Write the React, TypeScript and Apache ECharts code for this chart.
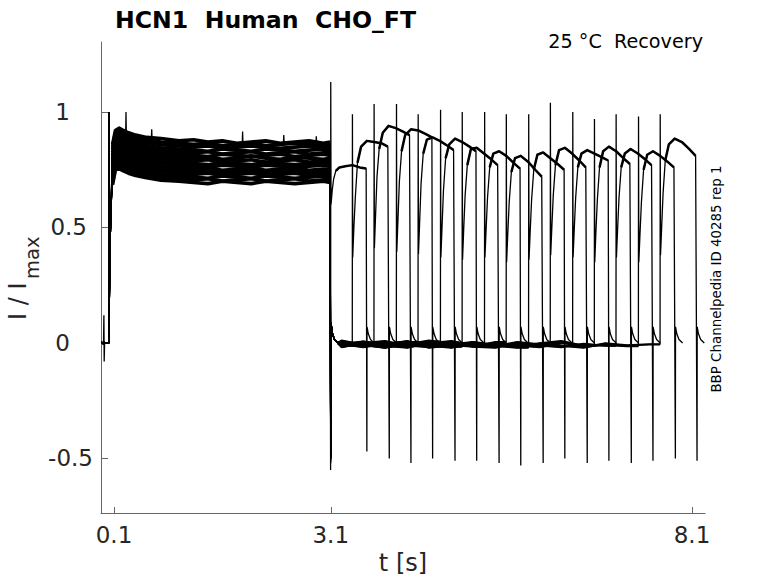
import React, { useEffect, useRef } from "react";
import * as echarts from "echarts";

// ---- axis ticks ----
const xTicks = [0.1, 3.1, 8.1];
const yTicks = [-0.5, 0, 0.5, 1];

// ---- holding segment before the first step ----
const preT = [-0.075, -0.045, -0.04, -0.036, -0.03, 0.029];
const preV0 = [0.0, 0.004, 0.12, -0.08, 0.0, 0.0];
const preV = [0.004, -0.004, 0.006, -0.006, 0.002, 0.0];

// ---- onset of the first (activating) step ----
const riseT = [0.03, 0.031, 0.034, 0.045, 0.06];
const riseV = [0.0, 1.0, 0.15, 0.42, 0.6];

// ---- first pulse plateau, one row per sweep ----
const plateauT = [0.08, 0.12, 0.17, 0.23, 0.3, 0.4, 0.55, 0.75, 1.0, 1.2, 1.4, 1.6, 1.8, 2.0, 2.2, 2.4, 2.6, 2.8, 3.0, 3.09];
const plateau = [
  [0.79, 0.855, 0.86, 0.85, 0.84, 0.83, 0.82, 0.81, 0.805, 0.8, 0.805, 0.795, 0.8, 0.81, 0.8, 0.795, 0.805, 0.8, 0.795, 0.8],
  [0.86, 0.92, 0.93, 0.92, 0.91, 0.9, 0.89, 0.885, 0.875, 0.88, 0.87, 0.875, 0.865, 0.87, 0.875, 0.865, 0.87, 0.875, 0.865, 0.87],
  [0.85, 0.91, 0.915, 0.91, 0.9, 0.89, 0.88, 0.87, 0.865, 0.86, 0.865, 0.855, 0.86, 0.865, 0.855, 0.86, 0.865, 0.86, 0.855, 0.86],
  [0.825, 0.89, 0.895, 0.885, 0.875, 0.865, 0.855, 0.845, 0.84, 0.835, 0.83, 0.84, 0.835, 0.83, 0.84, 0.835, 0.83, 0.835, 0.84, 0.835],
  [0.838, 0.903, 0.908, 0.898, 0.888, 0.878, 0.868, 0.858, 0.853, 0.848, 0.853, 0.843, 0.848, 0.853, 0.848, 0.843, 0.848, 0.853, 0.848, 0.848],
  [0.813, 0.878, 0.883, 0.873, 0.863, 0.853, 0.843, 0.833, 0.828, 0.823, 0.828, 0.818, 0.823, 0.828, 0.818, 0.823, 0.828, 0.818, 0.823, 0.823],
  [0.802, 0.867, 0.872, 0.862, 0.852, 0.842, 0.832, 0.822, 0.817, 0.812, 0.807, 0.817, 0.812, 0.807, 0.812, 0.817, 0.807, 0.812, 0.817, 0.812],
  [0.778, 0.843, 0.848, 0.838, 0.828, 0.818, 0.808, 0.798, 0.793, 0.788, 0.793, 0.783, 0.788, 0.793, 0.783, 0.788, 0.793, 0.783, 0.788, 0.788],
  [0.767, 0.832, 0.837, 0.827, 0.817, 0.807, 0.797, 0.787, 0.782, 0.777, 0.772, 0.782, 0.777, 0.772, 0.782, 0.777, 0.772, 0.777, 0.782, 0.777],
  [0.743, 0.808, 0.813, 0.803, 0.793, 0.783, 0.773, 0.763, 0.758, 0.753, 0.758, 0.748, 0.753, 0.758, 0.748, 0.753, 0.758, 0.748, 0.753, 0.753],
  [0.755, 0.82, 0.825, 0.815, 0.805, 0.795, 0.785, 0.775, 0.77, 0.765, 0.76, 0.77, 0.765, 0.76, 0.77, 0.765, 0.76, 0.765, 0.77, 0.765],
  [0.732, 0.797, 0.802, 0.792, 0.782, 0.772, 0.762, 0.752, 0.747, 0.742, 0.747, 0.737, 0.742, 0.747, 0.737, 0.742, 0.747, 0.737, 0.742, 0.742],
  [0.708, 0.773, 0.778, 0.768, 0.758, 0.748, 0.738, 0.728, 0.723, 0.718, 0.713, 0.723, 0.718, 0.713, 0.723, 0.718, 0.713, 0.718, 0.723, 0.718],
  [0.72, 0.785, 0.79, 0.78, 0.77, 0.76, 0.75, 0.74, 0.735, 0.73, 0.735, 0.725, 0.73, 0.735, 0.725, 0.73, 0.735, 0.725, 0.73, 0.73],
  [0.696, 0.761, 0.766, 0.756, 0.746, 0.736, 0.726, 0.716, 0.711, 0.706, 0.711, 0.701, 0.706, 0.711, 0.701, 0.706, 0.711, 0.701, 0.706, 0.706],
  [0.685, 0.75, 0.755, 0.745, 0.735, 0.725, 0.715, 0.705, 0.7, 0.695, 0.69, 0.7, 0.695, 0.69, 0.7, 0.695, 0.69, 0.695, 0.7, 0.695],
];
// noise spikes on the top sweep
const spikesSweep1: [number, number][] = [
  [0.262, 0.915], [0.266, 1.0], [0.27, 0.915],
  [0.618, 0.89], [0.622, 0.925], [0.626, 0.89],
  [1.876, 0.87], [1.88, 0.915], [1.884, 0.87],
  [2.446, 0.87], [2.45, 0.9], [2.454, 0.87],
  [2.896, 0.87], [2.9, 0.895], [2.904, 0.87],
];

// ---- step down at 3.1 s ----
const stepDown = [-0.55, -0.48, -0.5, -0.45, -0.52, -0.47, -0.5, -0.49, -0.46, -0.51, -0.48, -0.5, -0.47, -0.49, -0.5, -0.48];
const tailRelT = [0.002, 0.02, 0.05, 0.1];
const tailV = [0.09, 0.045, 0.015, 0.0];
const endTailV = [0.07, 0.04, 0.015, 0.0];

// ---- baseline between the two pulses ----
const baseT = [3.25, 3.55, 3.85, 4.16, 4.46, 4.77, 5.07, 5.38, 5.68, 5.99, 6.29, 6.6, 6.9, 7.2, 7.51];
const baseline = [
  [],
  [-0.006],
  [0.004, -0.012],
  [-0.014, 0.006, -0.008],
  [0.008, -0.016, -0.002, 0.004],
  [-0.01, -0.002, -0.018, -0.006, 0.006],
  [-0.018, 0.0, 0.008, -0.012, -0.004, -0.016],
  [0.01, -0.008, -0.02, 0.002, -0.014, -0.002, -0.01],
  [-0.004, 0.006, -0.012, -0.02, 0.0, -0.008, -0.016, 0.004],
  [-0.016, -0.004, 0.002, -0.01, -0.018, 0.006, -0.006, -0.012, -0.02],
  [0.002, -0.014, -0.006, 0.008, -0.02, -0.01, 0.002, -0.016, -0.004, -0.012],
  [-0.012, 0.004, -0.018, -0.006, 0.01, -0.004, -0.014, 0.0, -0.01, -0.018, -0.002],
  [-0.002, -0.018, -0.004, 0.006, -0.012, -0.02, 0.004, -0.008, -0.016, -0.002, 0.008, -0.012],
  [-0.014, 0.002, -0.01, -0.018, -0.002, 0.008, -0.016, -0.02, 0.0, -0.01, -0.018, -0.004, -0.012],
  [0.006, -0.008, -0.02, -0.002, -0.014, -0.006, 0.004, -0.012, -0.018, -0.004, 0.002, -0.016, -0.008, -0.014],
  [-0.008, -0.016, 0.0, -0.012, -0.004, -0.018, -0.008, -0.014, 0.004, -0.006, -0.012, -0.02, -0.002, -0.01, -0.006],
];

// ---- second (test) pulse ----
const onsetT = [3.1, 3.4, 3.7, 4.01, 4.31, 4.62, 4.92, 5.23, 5.53, 5.84, 6.14, 6.45, 6.75, 7.05, 7.36, 7.66];
const onsetSpike = [1.13, 0.99, 1.035, 1.035, 0.99, 1.01, 1.0, 1.0, 0.99, 0.99, 1.04, 1.0, 0.97, 0.99, 0.98, 0.99];
const secondRelT = [0.004, 0.02, 0.04, 0.07, 0.12, 0.2, 0.3, 0.4, 0.49];
const secondV = [
  [0.6, 0.66, 0.71, 0.745, 0.76, 0.765, 0.77, 0.76, 0.755],
  [0.37, 0.5, 0.63, 0.78, 0.85, 0.875, 0.87, 0.865, 0.85],
  [0.41, 0.55, 0.72, 0.84, 0.91, 0.94, 0.93, 0.915, 0.9],
  [0.395, 0.53, 0.7, 0.83, 0.9, 0.925, 0.92, 0.905, 0.89],
  [0.385, 0.52, 0.69, 0.82, 0.88, 0.89, 0.875, 0.855, 0.835],
  [0.37, 0.5, 0.66, 0.8, 0.86, 0.885, 0.87, 0.85, 0.83],
  [0.36, 0.49, 0.64, 0.77, 0.84, 0.845, 0.82, 0.795, 0.77],
  [0.37, 0.49, 0.63, 0.76, 0.82, 0.83, 0.81, 0.78, 0.755],
  [0.35, 0.47, 0.61, 0.74, 0.8, 0.81, 0.785, 0.75, 0.72],
  [0.36, 0.48, 0.62, 0.75, 0.815, 0.825, 0.8, 0.775, 0.75],
  [0.38, 0.5, 0.64, 0.77, 0.835, 0.845, 0.82, 0.79, 0.76],
  [0.37, 0.49, 0.63, 0.76, 0.82, 0.835, 0.82, 0.805, 0.79],
  [0.35, 0.48, 0.62, 0.76, 0.83, 0.85, 0.83, 0.8, 0.775],
  [0.37, 0.49, 0.63, 0.76, 0.82, 0.84, 0.82, 0.795, 0.77],
  [0.35, 0.47, 0.61, 0.75, 0.815, 0.83, 0.81, 0.785, 0.76],
  [0.38, 0.5, 0.65, 0.79, 0.86, 0.885, 0.87, 0.84, 0.81],
];
const offsetT = [3.6, 3.91, 4.21, 4.51, 4.82, 5.12, 5.43, 5.73, 6.04, 6.34, 6.65, 6.95, 7.26, 7.56, 7.87, 8.17];
const offsetSpike = [-0.47, -0.5, -0.52, -0.5, -0.51, -0.51, -0.52, -0.53, -0.52, -0.5, -0.52, -0.51, -0.52, -0.51, -0.5, -0.51];

const yLabelPad: Record<string, number> = { "-0.5": 0, "0.5": 6, "0": 23, "1": 23 };

const FONT = "'DejaVu Sans', sans-serif";

function buildSweep(k: number): [number, number][] {
  const pts: [number, number][] = [];
  preT.forEach((t, i) => pts.push([t, k === 0 ? preV0[i] : preV[i]]));
  riseT.forEach((t, i) => pts.push([t, riseV[i]]));
  plateauT.forEach((t, i) => pts.push([t, plateau[k][i]]));
  if (k === 1) spikesSweep1.forEach((p) => pts.push([p[0], p[1]]));
  if (k === 0) {
    pts.push([3.098, stepDown[0]]);
    pts.push([3.1, onsetSpike[0]]);
  } else {
    pts.push([3.1, stepDown[k]]);
    tailRelT.forEach((r, i) => pts.push([3.1 + r, tailV[i]]));
    baseline[k].forEach((v, i) => pts.push([baseT[i], v]));
    pts.push([onsetT[k] - 0.002, baseline[k][baseline[k].length - 1]]);
    pts.push([onsetT[k], onsetSpike[k]]);
  }
  secondRelT.forEach((r, i) => pts.push([onsetT[k] + r, secondV[k][i]]));
  pts.push([offsetT[k], offsetSpike[k]]);
  tailRelT.forEach((r, i) => pts.push([offsetT[k] + r, endTailV[i]]));
  pts.sort((a, b) => a[0] - b[0]);
  return pts;
}

// thicker overlays for the noisy plateau and baseline stretches of each sweep
function firstPlateau(k: number): [number, number][] {
  return plateauT.map((t, i) => [t, plateau[k][i]] as [number, number]);
}
function secondPlateau(k: number): [number, number][] {
  const out: [number, number][] = [];
  secondRelT.forEach((r, i) => {
    if (i >= 3) out.push([onsetT[k] + r, secondV[k][i]]);
  });
  return out;
}
function baselineStretch(k: number): [number, number][] {
  const out: [number, number][] = [];
  if (k === 0) return out;
  out.push([3.2, tailV[3]]);
  baseline[k].forEach((v, i) => out.push([baseT[i], v]));
  out.push([onsetT[k] - 0.002, baseline[k][baseline[k].length - 1]]);
  return out;
}

export default function App() {
  const ref = useRef<HTMLDivElement>(null);
  useEffect(() => {
    if (!ref.current) return;
    const chart = echarts.init(ref.current, undefined, { renderer: "svg" });
    const base = { type: "line", symbol: "none", showSymbol: false, silent: true };
    const series: any[] = [];
    plateau.forEach((_, k) => {
      series.push({ ...base, name: "sweep " + (k + 1), data: buildSweep(k), lineStyle: { color: "#000", width: 1.3 }, z: 2 });
      series.push({ ...base, data: firstPlateau(k), lineStyle: { color: "#000", width: 3.6, join: "round" }, z: 3 });
      series.push({ ...base, data: secondPlateau(k), lineStyle: { color: "#000", width: 2.5, join: "round" }, z: 3 });
      if (k > 0) series.push({ ...base, data: baselineStretch(k), lineStyle: { color: "#000", width: 2.2, join: "round" }, z: 3 });
    });
    chart.setOption({
      animation: false,
      backgroundColor: "#fff",
      title: [
        {
          text: "HCN1  Human  CHO_FT",
          left: 110,
          top: 3,
          textStyle: { fontFamily: FONT, fontWeight: "bold", fontSize: 23.6, color: "#000" },
        },
        {
          text: "25 °C  Recovery",
          right: 70,
          top: 27,
          textStyle: { fontFamily: FONT, fontWeight: "normal", fontSize: 19.2, color: "#000" },
        },
      ],
      grid: { left: 101, right: 73, top: 42, bottom: 70, containLabel: false },
      xAxis: {
        type: "value",
        min: -0.08,
        max: 8.28,
        name: "t [s]",
        nameLocation: "middle",
        nameGap: 38,
        nameTextStyle: { fontFamily: FONT, fontSize: 24, color: "#262626" },
        axisLine: { show: true, onZero: false, lineStyle: { color: "#666", width: 1 } },
        axisTick: { show: true, inside: true, length: 6, customValues: xTicks, lineStyle: { color: "#666" } },
        axisLabel: {
          show: true,
          customValues: xTicks,
          margin: 10,
          fontFamily: FONT,
          fontSize: 23,
          color: "#262626",
          formatter: (v: number) => v.toFixed(1),
        },
        splitLine: { show: false },
      },
      yAxis: {
        type: "value",
        min: -0.736,
        max: 1.303,
        axisLine: { show: true, onZero: false, lineStyle: { color: "#666", width: 1 } },
        axisTick: { show: true, inside: true, length: 7, customValues: yTicks, lineStyle: { color: "#666" } },
        axisLabel: {
          show: true,
          customValues: yTicks,
          margin: 8,
          fontFamily: FONT,
          fontSize: 23,
          color: "#262626",
          formatter: (v: number) => {
            const s = String(v);
            const key = s === "-0.5" ? "a" : s === "0.5" ? "b" : s === "0" ? "c" : "d";
            return "{" + key + "|" + s + "}";
          },
          rich: {
            a: { fontFamily: FONT, fontSize: 23, color: "#262626", padding: [0, yLabelPad["-0.5"], 0, 0] },
            b: { fontFamily: FONT, fontSize: 23, color: "#262626", padding: [0, yLabelPad["0.5"], 0, 0] },
            c: { fontFamily: FONT, fontSize: 23, color: "#262626", padding: [0, yLabelPad["0"], 0, 0] },
            d: { fontFamily: FONT, fontSize: 23, color: "#262626", padding: [0, yLabelPad["1"], 0, 0] },
          },
        },
        splitLine: { show: false },
      },
      graphic: [
        {
          type: "text",
          x: 17.5,
          y: 320,
          rotation: Math.PI / 2,
          style: {
            text: "I / I",
            fontFamily: FONT,
            fontSize: 24,
            fill: "#262626",
            align: "left",
            verticalAlign: "middle",
            textAlign: "left",
            textVerticalAlign: "middle",
          },
        },
        {
          type: "text",
          x: 32,
          y: 279,
          rotation: Math.PI / 2,
          style: {
            text: "max",
            fontFamily: FONT,
            fontSize: 19.5,
            fill: "#262626",
            align: "left",
            verticalAlign: "middle",
            textAlign: "left",
            textVerticalAlign: "middle",
          },
        },
        {
          type: "text",
          x: 716,
          y: 279,
          rotation: Math.PI / 2,
          style: {
            text: "BBP Channelpedia ID 40285 rep 1",
            fontFamily: FONT,
            fontSize: 13.4,
            fill: "#000",
            align: "center",
            verticalAlign: "middle",
            textAlign: "center",
            textVerticalAlign: "middle",
          },
        },
      ],
      series,
    });
    return () => chart.dispose();
  }, []);
  return (
    <div
      ref={ref}
      style={{ position: "fixed", left: 0, top: 0, width: 778, height: 583, background: "#fff" }}
    />
  );
}
